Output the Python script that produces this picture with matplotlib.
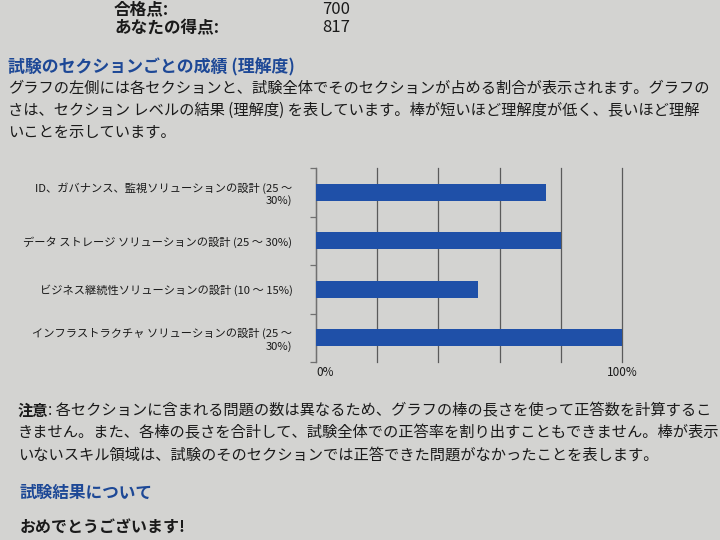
import matplotlib
matplotlib.use("Agg")
import matplotlib.pyplot as plt

plt.rcParams["font.family"] = ["Noto Sans CJK JP", "DejaVu Sans"]

# --- dati ---
categories = [
    "ID、ガバナンス、監視ソリューションの設計 (25 ～\n30%)",
    "データ ストレージ ソリューションの設計 (25 ～ 30%)",
    "ビジネス継続性ソリューションの設計 (10 ～ 15%)",
    "インフラストラクチャ ソリューションの設計 (25 ～\n30%)",
]
scores = [75, 80, 53, 100]
grid_ticks = [0, 20, 40, 60, 80, 100]
grid_labels = ["0%", "", "", "", "", "100%"]

header_labels = ["合格点:", "あなたの得点:"]
header_values = ["700", "817"]

section_title = "試験のセクションごとの成績 (理解度)"
# righe tagliate al bordo destro come nella foto
intro_lines = [
    "グラフの左側には各セクションと、試験全体でそのセクションが占める割合が表示されます。グラフの",
    "さは、セクション レベルの結果 (理解度) を表しています。棒が短いほど理解度が低く、長いほど理解",
    "いことを示しています。",
]
note_head = "注意"
note_lines = [
    ": 各セクションに含まれる問題の数は異なるため、グラフの棒の長さを使って正答数を計算するこ",
    "きません。また、各棒の長さを合計して、試験全体での正答率を割り出すこともできません。棒が表示",
    "いないスキル領域は、試験のそのセクションでは正答できた問題がなかったことを表します。",
]
result_title = "試験結果について"
congrats = "おめでとうございます!"

BG = "#d3d3d1"
BAR = "#1f50a8"
BLUE = "#1d4896"
TXT = "#1a1a1a"

fig = plt.figure(figsize=(7.2, 5.4), dpi=100, facecolor=BG)
W, H = 720.0, 540.0


def px(x, y):
    return x / W, 1 - y / H


# intestazione punteggi
for i, (lab, val) in enumerate(zip(header_labels, header_values)):
    y = 9 + i * 19
    fig.text(*px(114, y), lab, fontsize=12, color=TXT, va="center", fontweight="bold")
    fig.text(*px(322, y), val, fontsize=12, color=TXT, va="center")

fig.text(*px(8, 67), section_title, fontsize=12.2, color=BLUE, va="center", fontweight="bold")
for i, line in enumerate(intro_lines):
    fig.text(*px(8, 88 + i * 22), line, fontsize=11, color=TXT, va="center")

# grafico a barre
ax = fig.add_axes([316 / W, 1 - 362 / H, 306 / W, 194 / H])
ax.set_facecolor(BG)
ypos = list(range(len(categories)))
ax.barh(ypos, scores, height=0.36, color=BAR, zorder=3)
ax.set_xlim(0, 100)
ax.set_ylim(len(categories) - 0.5, -0.5)

ax.set_xticks(grid_ticks)
ax.set_xticklabels(grid_labels, fontsize=8.5, color=TXT)
ax.get_xticklabels()[0].set_ha("left")
ax.tick_params(axis="x", length=0, pad=3)
ax.grid(axis="x", color="#5a5a5a", lw=0.9, zorder=1)
for gl in ax.get_xgridlines():
    gl.set_clip_on(False)

ax.set_yticks(ypos)
ax.set_yticklabels(categories, fontsize=8.1, color=TXT)
ax.tick_params(axis="y", which="major", length=0, pad=17)
ax.set_yticks([i - 0.5 for i in range(len(categories) + 1)], minor=True)
ax.tick_params(axis="y", which="minor", length=4, color="#707070", width=0.9)

for s in ["top", "right", "bottom"]:
    ax.spines[s].set_visible(False)
ax.spines["left"].set_color("#707070")
ax.spines["left"].set_linewidth(0.9)

# nota
t = fig.text(*px(18, 411), note_head, fontsize=11, color=TXT, va="center", fontweight="bold")
ax2 = fig.add_axes([0, 0, 1, 1], facecolor="none")
ax2.axis("off")
ax2.annotate(note_lines[0], xy=(1, 0.5), xycoords=t, va="center", fontsize=11, color=TXT)
for i, line in enumerate(note_lines[1:]):
    fig.text(*px(18, 433 + i * 22), line, fontsize=11, color=TXT, va="center")

fig.text(*px(20, 493), result_title, fontsize=12, color=BLUE, va="center", fontweight="bold")
fig.text(*px(20, 528), congrats, fontsize=11.5, color=TXT, va="center", fontweight="bold")

fig.savefig("out.png", dpi=100, facecolor=BG)
